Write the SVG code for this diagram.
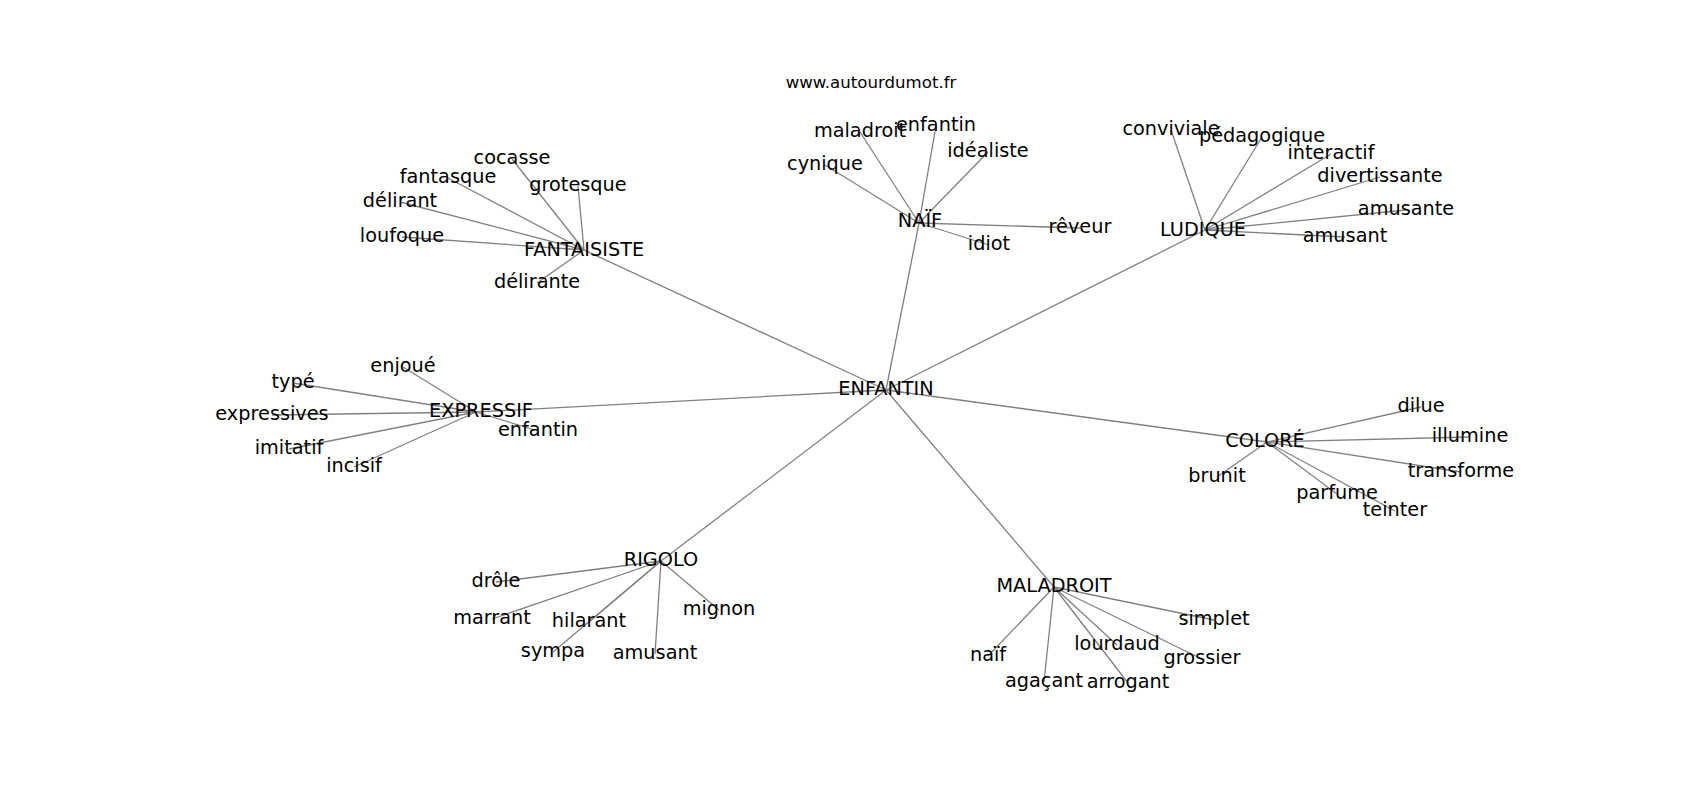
<svg xmlns="http://www.w3.org/2000/svg" width="1700" height="800" viewBox="0 0 1700 800">
<style>
  .e { stroke: #808080; stroke-width: 1.3; fill: none; }
  text { font-family: "DejaVu Sans", "Liberation Sans", sans-serif; fill: #000; text-anchor: middle; }
  .n text { font-size: 19.3px; }
  .t { font-size: 16.6px; }
</style>
<rect width="1700" height="800" fill="#fff"/>
<g id="connectors">
  <line class="e" x1="886" y1="390" x2="584" y2="250"/>
  <line class="e" x1="886" y1="390" x2="919" y2="223"/>
  <line class="e" x1="886" y1="390" x2="1205" y2="230"/>
  <line class="e" x1="886" y1="390" x2="476" y2="412"/>
  <line class="e" x1="886" y1="390" x2="1267" y2="442"/>
  <line class="e" x1="886" y1="390" x2="661" y2="561"/>
  <line class="e" x1="886" y1="390" x2="1054" y2="587"/>

  <line class="e" x1="584" y1="250" x2="512" y2="159"/>
  <line class="e" x1="584" y1="250" x2="448" y2="178"/>
  <line class="e" x1="584" y1="250" x2="578" y2="186"/>
  <line class="e" x1="584" y1="250" x2="400" y2="202"/>
  <line class="e" x1="584" y1="250" x2="402" y2="237"/>
  <line class="e" x1="584" y1="250" x2="537" y2="283"/>

  <line class="e" x1="919" y1="223" x2="860" y2="132"/>
  <line class="e" x1="919" y1="223" x2="936" y2="126"/>
  <line class="e" x1="919" y1="223" x2="988" y2="152"/>
  <line class="e" x1="919" y1="223" x2="825" y2="165"/>
  <line class="e" x1="919" y1="223" x2="989" y2="245"/>
  <line class="e" x1="919" y1="223" x2="1080" y2="228"/>

  <line class="e" x1="1205" y1="230" x2="1171" y2="130"/>
  <line class="e" x1="1205" y1="230" x2="1262" y2="137"/>
  <line class="e" x1="1205" y1="230" x2="1331" y2="154"/>
  <line class="e" x1="1205" y1="230" x2="1380" y2="177"/>
  <line class="e" x1="1205" y1="230" x2="1406" y2="210"/>
  <line class="e" x1="1205" y1="230" x2="1345" y2="237"/>

  <line class="e" x1="476" y1="412" x2="403" y2="367"/>
  <line class="e" x1="476" y1="412" x2="293" y2="383"/>
  <line class="e" x1="476" y1="412" x2="272" y2="415"/>
  <line class="e" x1="476" y1="412" x2="538" y2="431"/>
  <line class="e" x1="476" y1="412" x2="289" y2="449"/>
  <line class="e" x1="476" y1="412" x2="354" y2="467"/>

  <line class="e" x1="1267" y1="442" x2="1421" y2="407"/>
  <line class="e" x1="1267" y1="442" x2="1470" y2="437"/>
  <line class="e" x1="1267" y1="442" x2="1461" y2="472"/>
  <line class="e" x1="1267" y1="442" x2="1217" y2="477"/>
  <line class="e" x1="1267" y1="442" x2="1337" y2="494"/>
  <line class="e" x1="1267" y1="442" x2="1395" y2="511"/>

  <line class="e" x1="661" y1="561" x2="496" y2="582"/>
  <line class="e" x1="661" y1="561" x2="492" y2="619"/>
  <line class="e" x1="661" y1="561" x2="589" y2="622"/>
  <line class="e" x1="661" y1="561" x2="719" y2="610"/>
  <line class="e" x1="661" y1="561" x2="553" y2="652"/>
  <line class="e" x1="661" y1="561" x2="655" y2="654"/>

  <line class="e" x1="1054" y1="587" x2="1214" y2="620"/>
  <line class="e" x1="1054" y1="587" x2="988" y2="656"/>
  <line class="e" x1="1054" y1="587" x2="1117" y2="645"/>
  <line class="e" x1="1054" y1="587" x2="1202" y2="659"/>
  <line class="e" x1="1054" y1="587" x2="1044" y2="682"/>
  <line class="e" x1="1054" y1="587" x2="1128" y2="683"/>
</g>
<text class="t" x="871" y="88">www.autourdumot.fr</text>
<g class="n">
  <g id="n-enfantin"><text x="886" y="395">ENFANTIN</text></g>
  <g id="n-fantaisiste"><text x="584" y="256">FANTAISISTE</text></g>
  <g id="n-cocasse"><text x="512" y="164">cocasse</text></g>
  <g id="n-fantasque"><text x="448" y="183">fantasque</text></g>
  <g id="n-grotesque"><text x="578" y="191">grotesque</text></g>
  <g id="n-delirant"><text x="400" y="207">délirant</text></g>
  <g id="n-loufoque"><text x="402" y="242">loufoque</text></g>
  <g id="n-delirante"><text x="537" y="288">délirante</text></g>

  <g id="n-naif-hub"><text x="920" y="227">NAÏF</text></g>
  <g id="n-maladroit"><text x="860" y="137">maladroit</text></g>
  <g id="n-enfantin-n"><text x="936" y="131">enfantin</text></g>
  <g id="n-idealiste"><text x="988" y="157">idéaliste</text></g>
  <g id="n-cynique"><text x="825" y="170">cynique</text></g>
  <g id="n-idiot"><text x="989" y="250">idiot</text></g>
  <g id="n-reveur"><text x="1080" y="233">rêveur</text></g>

  <g id="n-ludique"><text x="1203" y="236">LUDIQUE</text></g>
  <g id="n-conviviale"><text x="1171" y="135">conviviale</text></g>
  <g id="n-pedagogique"><text x="1262" y="142">pédagogique</text></g>
  <g id="n-interactif"><text x="1331" y="159">interactif</text></g>
  <g id="n-divertissante"><text x="1380" y="182">divertissante</text></g>
  <g id="n-amusante"><text x="1406" y="215">amusante</text></g>
  <g id="n-amusant-l"><text x="1345" y="242">amusant</text></g>

  <g id="n-expressif"><text x="481" y="417">EXPRESSIF</text></g>
  <g id="n-enjoue"><text x="403" y="372">enjoué</text></g>
  <g id="n-type"><text x="293" y="388">typé</text></g>
  <g id="n-expressives"><text x="272" y="420">expressives</text></g>
  <g id="n-enfantin-e"><text x="538" y="436">enfantin</text></g>
  <g id="n-imitatif"><text x="289" y="454">imitatif</text></g>
  <g id="n-incisif"><text x="354" y="472">incisif</text></g>

  <g id="n-colore"><text x="1265" y="447">COLORÉ</text></g>
  <g id="n-dilue"><text x="1421" y="412">dilue</text></g>
  <g id="n-illumine"><text x="1470" y="442">illumine</text></g>
  <g id="n-transforme"><text x="1461" y="477">transforme</text></g>
  <g id="n-brunit"><text x="1217" y="482">brunit</text></g>
  <g id="n-parfume"><text x="1337" y="499">parfume</text></g>
  <g id="n-teinter"><text x="1395" y="516">teinter</text></g>

  <g id="n-rigolo"><text x="661" y="566">RIGOLO</text></g>
  <g id="n-drole"><text x="496" y="587">drôle</text></g>
  <g id="n-marrant"><text x="492" y="624">marrant</text></g>
  <g id="n-hilarant"><text x="589" y="627">hilarant</text></g>
  <g id="n-mignon"><text x="719" y="615">mignon</text></g>
  <g id="n-sympa"><text x="553" y="657">sympa</text></g>
  <g id="n-amusant-r"><text x="655" y="659">amusant</text></g>

  <g id="n-maladroit-hub"><text x="1054" y="592">MALADROIT</text></g>
  <g id="n-simplet"><text x="1214" y="625">simplet</text></g>
  <g id="n-naif"><text x="988" y="661">naïf</text></g>
  <g id="n-lourdaud"><text x="1117" y="650">lourdaud</text></g>
  <g id="n-grossier"><text x="1202" y="664">grossier</text></g>
  <g id="n-agacant"><text x="1044" y="687">agaçant</text></g>
  <g id="n-arrogant"><text x="1128" y="688">arrogant</text></g>
</g>
</svg>
